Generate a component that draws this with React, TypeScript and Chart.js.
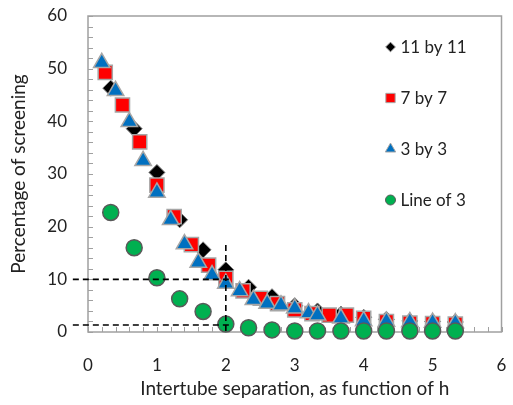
import React, { useEffect, useRef } from 'react';
import { Chart, registerables } from 'chart.js';

Chart.register(...registerables);

const FONT = 'Lato';
const TEXT = '#222222';
const FRAME = '#a0a0a0';

// 11 by 11
const d11X = [0.33, 0.67, 1.0, 1.33, 1.67, 2.0, 2.33, 2.67, 3.0, 3.33, 3.67, 4.0, 4.33, 4.67, 5.0, 5.33];
const d11Y = [46.3, 38.6, 30.3, 21.3, 15.6, 11.8, 8.5, 6.7, 5.0, 4.0, 3.4, 2.8, 2.4, 2.1, 2.0, 1.9];
// 7 by 7
const d7X = [0.25, 0.5, 0.75, 1.0, 1.25, 1.5, 1.75, 2.0, 2.25, 2.5, 2.75, 3.0, 3.25, 3.5, 3.75, 4.0, 4.33, 4.67, 5.0, 5.33];
const d7Y = [49.3, 43.1, 36.1, 27.9, 21.9, 16.6, 12.7, 10.2, 7.8, 6.4, 5.4, 4.2, 3.5, 3.2, 3.2, 2.6, 2.0, 1.7, 1.6, 1.5];
// 3 by 3
const d3X = [0.2, 0.4, 0.6, 0.8, 1.0, 1.2, 1.4, 1.6, 1.8, 2.0, 2.2, 2.4, 2.6, 2.8, 3.0, 3.2, 3.33, 3.67, 4.0, 4.33, 4.67, 5.0, 5.33];
const d3Y = [51.1, 45.8, 39.9, 32.5, 26.5, 21.3, 16.7, 13.2, 10.8, 9.2, 7.8, 6.1, 5.4, 5.1, 4.5, 3.6, 3.2, 2.6, 2.1, 2.0, 1.9, 1.8, 1.7];
// Line of 3
const lineX = [0.33, 0.67, 1.0, 1.33, 1.67, 2.0, 2.33, 2.67, 3.0, 3.33, 3.67, 4.0, 4.33, 4.67, 5.0, 5.33];
const lineY = [22.7, 16.0, 10.3, 6.3, 3.9, 1.5, 0.8, 0.4, 0.2, 0.2, 0.2, 0.2, 0.2, 0.2, 0.2, 0.2];

// dashed guide lines
const guideAX = [-0.22, 2.08];
const guideAY = [10, 10];
const guideBX = [-0.22, 2.08];
const guideBY = [1.33, 1.33];
const guideCX = [2, 2];
const guideCY = [16.5, 0];

const seriesNames = ['11 by 11', '7 by 7', '3 by 3', 'Line of 3'];
const xMin = 0, xMax = 6, xStep = 1, xMinor = 0.2;
const yMin = 0, yMax = 60, yStep = 10, yMinor = 2;

const pts = (xs: number[], ys: number[]) => xs.map((x, i) => ({ x, y: ys[i] }));

function drawMarker(ctx: CanvasRenderingContext2D, style: string, x: number, y: number, r: number, fill: string, stroke: string, lw: number) {
  ctx.beginPath();
  if (style === 'circle') {
    ctx.arc(x, y, r, 0, Math.PI * 2);
  } else if (style === 'rect') {
    const s = r * Math.SQRT1_2;
    ctx.rect(x - s, y - s, 2 * s, 2 * s);
  } else if (style === 'rectRot') {
    ctx.moveTo(x - r, y);
    ctx.lineTo(x, y - r);
    ctx.lineTo(x + r, y);
    ctx.lineTo(x, y + r);
    ctx.closePath();
  } else if (style === 'triangle') {
    for (let k = 0; k < 3; k++) {
      const a = -Math.PI / 2 + (k * 2 * Math.PI) / 3;
      const px = x + Math.cos(a) * r;
      const py = y + Math.sin(a) * r;
      if (k === 0) ctx.moveTo(px, py); else ctx.lineTo(px, py);
    }
    ctx.closePath();
  }
  ctx.fillStyle = fill;
  ctx.fill();
  if (lw > 0) {
    ctx.strokeStyle = stroke;
    ctx.lineWidth = lw;
    ctx.stroke();
  }
}

const framePlugin = {
  id: 'frame',
  beforeDatasetsDraw(chart: any) {
    const { ctx, chartArea: a, scales } = chart;
    ctx.save();
    ctx.strokeStyle = FRAME;
    ctx.lineWidth = 1.5;
    ctx.strokeRect(a.left, a.top, a.right - a.left, a.bottom - a.top);
    ctx.lineWidth = 1;
    ctx.beginPath();
    for (let v = yMin; v <= yMax + 1e-9; v += yMinor) {
      const py = Math.round(scales.y.getPixelForValue(v)) + 0.5;
      ctx.moveTo(a.left, py);
      ctx.lineTo(a.left + 5, py);
    }
    for (let v = xMin; v <= xMax + 1e-9; v += xMinor) {
      const px = Math.round(scales.x.getPixelForValue(v)) + 0.5;
      ctx.moveTo(px, a.bottom);
      ctx.lineTo(px, a.bottom - 5);
    }
    ctx.stroke();
    ctx.restore();
  },
};

const legendPlugin = {
  id: 'customLegend',
  afterDraw(chart: any) {
    const { ctx, chartArea: a } = chart;
    const sizes = [4.8, 6.6, 6, 5];
    ctx.save();
    ctx.font = `17px ${FONT}`;
    ctx.textBaseline = 'middle';
    ctx.textAlign = 'left';
    for (let i = 0; i < 4; i++) {
      const ds = chart.data.datasets[i];
      const y = a.top + 31 + i * 51;
      const mx = a.right - 111;
      drawMarker(ctx, ds.pointStyle, mx, y, sizes[i], ds.backgroundColor, ds.borderColor, 1);
      ctx.fillStyle = TEXT;
      ctx.fillText(ds.label, mx + 10, y + 1);
    }
    ctx.restore();
  },
};

export default function App() {
  const ref = useRef<HTMLCanvasElement>(null);

  useEffect(() => {
    if (!ref.current) return;
    const guide = (xs: number[], ys: number[], label: string) => ({
      type: 'line' as const,
      label,
      data: pts(xs, ys),
      showLine: true,
      borderColor: '#000000',
      borderWidth: 1.6,
      borderDash: [6, 4],
      pointRadius: 0,
      fill: false,
      clip: false as any,
      order: 0,
    });
    const chart = new Chart(ref.current, {
      type: 'scatter',
      data: {
        datasets: [
          {
            label: seriesNames[0],
            data: pts(d11X, d11Y),
            pointStyle: 'rectRot',
            pointRadius: 8,
            backgroundColor: '#000000',
            borderColor: '#7f7f7f',
            borderWidth: 1,
            clip: false as any,
            order: 4,
          },
          {
            label: seriesNames[1],
            data: pts(d7X, d7Y),
            pointStyle: 'rect',
            pointRadius: 10,
            backgroundColor: '#ff0000',
            borderColor: '#a6a6a6',
            borderWidth: 1.5,
            clip: false as any,
            order: 3,
          },
          {
            label: seriesNames[2],
            data: pts(d3X, d3Y),
            pointStyle: 'triangle',
            pointRadius: 9.5,
            backgroundColor: '#0070c0',
            borderColor: '#a6a6a6',
            borderWidth: 1.5,
            clip: false as any,
            order: 2,
          },
          {
            label: seriesNames[3],
            data: pts(lineX, lineY),
            pointStyle: 'circle',
            pointRadius: 8,
            backgroundColor: '#00b050',
            borderColor: '#595959',
            borderWidth: 1.5,
            clip: false as any,
            order: 1,
          },
          guide(guideAX, guideAY, 'guide10'),
          guide(guideBX, guideBY, 'guide1'),
          guide(guideCX, guideCY, 'guide2'),
        ] as any,
      },
      options: {
        animation: false,
        responsive: false,
        layout: { padding: { top: 16, right: 6, left: 0, bottom: 0 } },
        plugins: {
          legend: { display: false },
          tooltip: { enabled: false },
        },
        scales: {
          x: {
            type: 'linear',
            min: xMin,
            max: xMax,
            grid: { display: false, drawTicks: false },
            border: { display: false },
            ticks: {
              stepSize: xStep,
              padding: 23,
              color: TEXT,
              font: { family: FONT, size: 17 },
            },
            title: {
              display: true,
              text: 'Intertube separation, as function of h',
              color: TEXT,
              font: { family: FONT, size: 19 },
              padding: { top: 0, bottom: 5 },
            },
            afterFit(scale: any) {
              scale.height = 73;
              scale.paddingLeft = 0;
              scale.paddingRight = 0;
            },
          },
          y: {
            type: 'linear',
            min: yMin,
            max: yMax,
            grid: { display: false, drawTicks: false },
            border: { display: false },
            ticks: {
              stepSize: yStep,
              padding: 21,
              color: TEXT,
              font: { family: FONT, size: 17 },
            },
            title: {
              display: true,
              text: 'Percentage of screening',
              color: TEXT,
              font: { family: FONT, size: 19 },
              padding: { top: 7, bottom: 0 },
            },
            afterFit(scale: any) {
              scale.width = 88;
              scale.paddingTop = 0;
              scale.paddingBottom = 0;
            },
          },
        },
      },
      plugins: [framePlugin, legendPlugin],
    });
    return () => chart.destroy();
  }, []);

  return (
    <div style={{ position: 'fixed', left: 0, top: 0, width: 513, height: 405, background: '#ffffff' }}>
      <canvas ref={ref} width={513} height={405} />
    </div>
  );
}
